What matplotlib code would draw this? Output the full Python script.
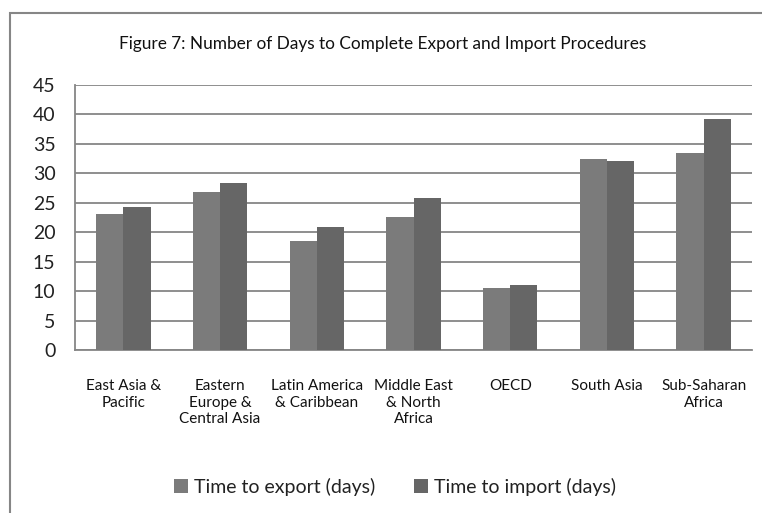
import matplotlib
matplotlib.use("Agg")
import matplotlib.pyplot as plt
from matplotlib.patches import Rectangle
import numpy as np

plt.rcParams["font.family"] = ["Lato", "DejaVu Sans"]

regions = [
    "East Asia &\nPacific",
    "Eastern\nEurope &\nCentral Asia",
    "Latin America\n& Caribbean",
    "Middle East\n& North\nAfrica",
    "OECD",
    "South Asia",
    "Sub-Saharan\nAfrica",
]
export_days = [23.1, 26.8, 18.5, 22.6, 10.5, 32.4, 33.4]
import_days = [24.3, 28.4, 20.9, 25.8, 11.0, 32.1, 39.2]
series_names = ["Time to export (days)", "Time to import (days)"]
y_ticks = [0, 5, 10, 15, 20, 25, 30, 35, 40, 45]

W, H = 762, 513
fig = plt.figure(figsize=(W / 100, H / 100), dpi=100)
fig.patch.set_facecolor("white")

# outer chart frame
fig.add_artist(Rectangle((10 / W, -0.2), 1.0, 1.2 - 13 / H,
                         transform=fig.transFigure, fill=False,
                         edgecolor="#868686", linewidth=1.5))

ax = fig.add_axes([75 / W, 1 - 350 / H, (752 - 75) / W, (350 - 85) / H])
x = np.arange(len(regions))
bw = 0.282
ax.bar(x - bw / 2, export_days, bw, color="#7b7b7b", label=series_names[0], zorder=3)
ax.bar(x + bw / 2, import_days, bw, color="#666666", label=series_names[1], zorder=3)

ax.set_xlim(-0.5, len(regions) - 0.5)
ax.set_ylim(0, 45)
ax.set_yticks(y_ticks)
ax.set_yticklabels([str(t) for t in y_ticks], fontsize=14, color="#222222")
ax.yaxis.grid(True, color="#868686", linewidth=1.3, zorder=0)
ax.set_xticks(x)
ax.set_xticklabels(regions, fontsize=11, color="#111111", linespacing=1.24)
ax.tick_params(axis="both", length=0)
ax.tick_params(axis="x", pad=21)
ax.tick_params(axis="y", pad=14)
for side in ("top", "right"):
    ax.spines[side].set_visible(False)
for side in ("left", "bottom"):
    ax.spines[side].set_color("#868686")
    ax.spines[side].set_linewidth(1.3)

fig.text(383 / W, 1 - 44 / H,
         "Figure 7: Number of Days to Complete Export and Import Procedures",
         ha="center", va="center", fontsize=12.4, color="#111111")

fig.legend(loc="center", bbox_to_anchor=(395 / W, 1 - 487 / H), ncol=2,
           frameon=False, fontsize=14, handlelength=0.7, handleheight=0.7,
           handletextpad=0.3, columnspacing=2.0, labelcolor="#222222")

fig.savefig("out.png", dpi=100, facecolor="white")
